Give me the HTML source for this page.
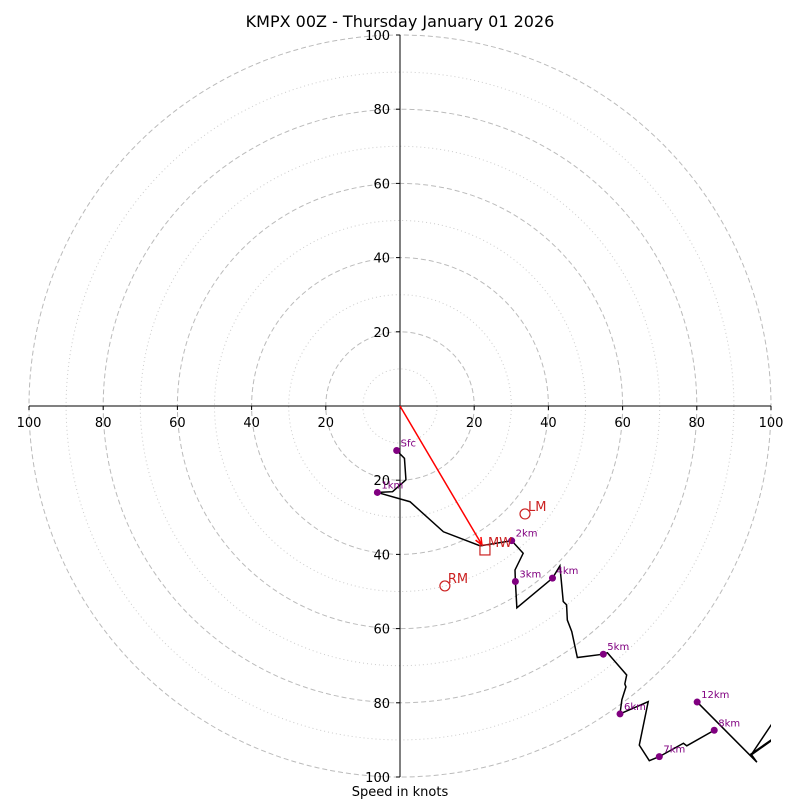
<!DOCTYPE html>
<html><head><meta charset="utf-8"><style>
html,body{margin:0;padding:0;background:#fff}
svg{display:block;font-family:"DejaVu Sans","Liberation Sans",sans-serif}
</style></head><body>
<svg id="chart" width="800" height="800" viewBox="0 0 800 800" xmlns="http://www.w3.org/2000/svg">
<defs><clipPath id="clip"><rect x="29" y="35" width="742" height="742"/></clipPath></defs>
<text x="400" y="27" text-anchor="middle" font-size="16">KMPX 00Z - Thursday January 01 2026</text>
<text x="400" y="796" text-anchor="middle" font-size="13">Speed in knots</text>
<g id="rings"></g><g id="axes"></g><g id="plot" clip-path="url(#clip)"></g><g id="labels"></g>
</svg>
<script>
const ringSpeeds=[10,20,30,40,50,60,70,80,90,100];
const tickValues=[20,40,60,80,100];
const traceU=[-0.9,1.2,1.6,-2.0,-6.1,2.7,11.7,21.6,30.1,33.2,31.0,31.1,31.5,41.1,43.1,44.0,44.9,45.1,46.3,47.8,54.8,55.9,61.1,60.6,60.9,59.8,59.3,66.9,64.5,67.2,69.9,76.4,77.3,84.7];
const traceV=[-12.0,-14.1,-19.9,-23.1,-23.3,-25.8,-33.9,-37.7,-36.3,-39.7,-44.2,-47.3,-54.4,-46.4,-43.1,-52.7,-53.6,-57.7,-60.8,-67.8,-66.9,-66.5,-72.5,-74.9,-75.7,-79.2,-83.0,-79.7,-91.4,-95.6,-94.5,-90.9,-91.6,-87.4];
const tailU=[115.9,94.6,115.9,94.6,96.2,80.1];
const tailV=[-62.3,-94.1,-79.0,-93.8,-96.0,-79.8];
const levelNames=["Sfc","1km","2km","3km","4km","5km","6km","7km","8km","12km"];
const levelU=[-0.9,-6.1,30.1,31.1,41.1,54.8,59.3,69.9,84.7,80.1];
const levelV=[-12.0,-23.3,-36.3,-47.3,-46.4,-66.9,-83.0,-94.5,-87.4,-79.8];
const motionNames=["LM","RM","MW"];
const motionU=[33.7,12.1,22.9];
const motionV=[-29.1,-48.5,-38.8];

const NS="http://www.w3.org/2000/svg";
const cx=400,cy=406,scale=3.71;
const sx=u=>cx+u*scale, sy=v=>cy-v*scale;
function mk(tag,attrs,parent){const e=document.createElementNS(NS,tag);for(const k in attrs)e.setAttribute(k,attrs[k]);parent.appendChild(e);return e;}
const rings=document.getElementById('rings'),axes=document.getElementById('axes'),plot=document.getElementById('plot'),labels=document.getElementById('labels');
ringSpeeds.forEach(s=>{
  const dash=s%20===0;
  const c=mk('circle',{cx:cx,cy:cy,r:s*scale,fill:'none',stroke:dash?'#bbbbbb':'#cccccc','stroke-width':1,'stroke-dasharray':dash?'5,3':'1,3'},rings);
  
  
});
let l=mk('line',{x1:cx,y1:sy(100),x2:cx,y2:sy(-100),stroke:'#000','stroke-width':1},axes);


l=mk('line',{x1:sx(-100),y1:cy,x2:sx(100),y2:cy,stroke:'#000','stroke-width':1},axes);


tickValues.forEach(t=>{
  [1,-1].forEach(sg=>{
    let tx=mk('text',{x:sx(sg*t),y:cy+21,'text-anchor':'middle','font-size':13},axes);tx.textContent=t;
    
    
    mk('line',{x1:sx(sg*t),y1:cy,x2:sx(sg*t),y2:cy+4,stroke:'#000'},axes);
    let ty=mk('text',{x:cx-10,y:sy(sg*t)+5,'text-anchor':'end','font-size':13},axes);ty.textContent=t;
    
    
    mk('line',{x1:cx-4,y1:sy(sg*t),x2:cx,y2:sy(sg*t),stroke:'#000'},axes);
  });
});
let p=mk('polyline',{points:traceU.map((u,i)=>sx(u)+','+sy(traceV[i])).join(' '),fill:'none',stroke:'#000','stroke-width':1.5},plot);


p=mk('polyline',{points:tailU.map((u,i)=>sx(u)+','+sy(tailV[i])).join(' '),fill:'none',stroke:'#000','stroke-width':1.5},plot);


let a=mk('line',{x1:cx,y1:cy,x2:sx(motionU[2]*0.965),y2:sy(motionV[2]*0.965),stroke:'#ff0000','stroke-width':1.5},plot);


{const ex=sx(motionU[2]*0.965),ey=sy(motionV[2]*0.965),ang=Math.atan2(ey-cy,ex-cx);
 const h=mk('polyline',{points:(ex-8*Math.cos(ang-0.4))+','+(ey-8*Math.sin(ang-0.4))+' '+ex+','+ey+' '+(ex-8*Math.cos(ang+0.4))+','+(ey-8*Math.sin(ang+0.4)),fill:'none',stroke:'#ff0000','stroke-width':1.5},plot);
 
 }
levelNames.forEach((n,i)=>{
  const d=mk('circle',{cx:sx(levelU[i]),cy:sy(levelV[i]),r:3.5,fill:'#800080'},plot);
  
  
  const t=mk('text',{x:sx(levelU[i])+4,y:sy(levelV[i])-4,'font-size':10,fill:'#800080'},plot);t.textContent=n;
  
  
});
motionNames.forEach((n,i)=>{
  const x=sx(motionU[i]),y=sy(motionV[i]);
  let m;
  if(n==='MW') m=mk('rect',{x:x-5,y:y-5,width:10,height:10,fill:'none',stroke:'#cc2222','stroke-width':1.2},plot);
  else m=mk('circle',{cx:x,cy:y,r:5,fill:'none',stroke:'#cc2222','stroke-width':1.2},plot);
  
  
  const t=mk('text',{x:x+3,y:y-3,'font-size':13,fill:'#cc2222'},plot);t.textContent=n;
  
  
});
</script>
</body></html>
